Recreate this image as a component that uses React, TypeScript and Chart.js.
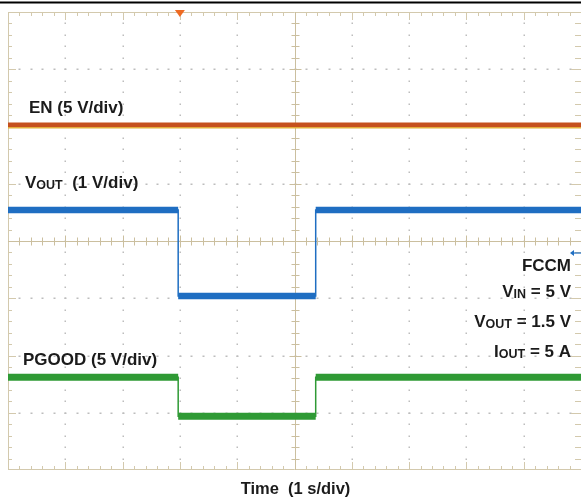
import React, { useEffect, useRef } from "react";
import { Chart, registerables } from "chart.js";

Chart.register(...registerables);

// Oscilloscope screen: 10 horizontal divisions (1 s/div), 8 vertical divisions
const X_MIN = 0;
const X_MAX = 10;
const Y_MIN = -4;
const Y_MAX = 4;

// EN trace (5 V/div) – level in divisions from screen centre
const enTime = [0, 10];
const enLevel = [2.03, 2.03];
const enShadowLevel = [2.0, 2.0];

// VOUT trace (1 V/div)
const voutTime = [0, 2.97, 2.97, 5.37, 5.37, 10];
const voutLevel = [0.54, 0.54, -0.96, -0.96, 0.54, 0.54];

// PGOOD trace (5 V/div)
const pgoodTime = [0, 2.97, 2.97, 5.37, 5.37, 10];
const pgoodLevel = [-2.38, -2.38, -3.06, -3.06, -2.38, -2.38];

// Markers
const triggerTime = 3.0;
const voutRefLevel = -0.21;

const FONT = '"Liberation Sans", Arial, Helvetica, sans-serif';
const TEXT_COLOR = "#1b1b1b";
const EN_COLOR = "#c5501e";
const EN_SHADOW = "#e4ad3c";
const VOUT_COLOR = "#1f6ec2";
const PGOOD_COLOR = "#2f9a35";

type Part = { t: string; size: number; dy?: number };

const leftLabels: { parts: Part[]; x: number; y: number }[] = [
  { parts: [{ t: "EN (5 V/div)", size: 17 }], x: 29, y: 113 },
  {
    parts: [
      { t: "V", size: 17 },
      { t: "OUT", size: 12.5, dy: 1 },
      { t: "  (1 V/div)", size: 17 },
    ],
    x: 25,
    y: 188,
  },
  { parts: [{ t: "PGOOD (5 V/div)", size: 17 }], x: 23, y: 365 },
];

const rightLabels: { parts: Part[]; y: number }[] = [
  { parts: [{ t: "FCCM", size: 17 }], y: 271 },
  {
    parts: [
      { t: "V", size: 17 },
      { t: "IN", size: 12.5, dy: 1 },
      { t: " = 5 V", size: 17 },
    ],
    y: 297,
  },
  {
    parts: [
      { t: "V", size: 17 },
      { t: "OUT", size: 12.5, dy: 1 },
      { t: " = 1.5 V", size: 17 },
    ],
    y: 327,
  },
  {
    parts: [
      { t: "I", size: 17 },
      { t: "OUT", size: 12.5, dy: 1 },
      { t: " = 5 A", size: 17 },
    ],
    y: 357,
  },
];

const xTitle = "Time  (1 s/div)";

function toPoints(t: number[], v: number[]) {
  return t.map((x, i) => ({ x, y: v[i] }));
}

// flat (noisy, thick) portions of a step trace: pairs (0,1), (2,3), (4,5)
function plateaus(t: number[], v: number[]) {
  const out: { x: number; y: number | null }[] = [];
  for (let i = 0; i + 1 < t.length; i += 2) {
    out.push({ x: t[i], y: v[i] });
    out.push({ x: t[i + 1], y: v[i + 1] });
    if (i + 2 < t.length) out.push({ x: (t[i + 1] + t[i + 2]) / 2, y: null });
  }
  return out;
}

function drawRich(
  ctx: CanvasRenderingContext2D,
  parts: Part[],
  x: number,
  y: number,
  align: "left" | "right" | "center"
) {
  let w = 0;
  const widths: number[] = [];
  for (const p of parts) {
    ctx.font = `bold ${p.size}px ${FONT}`;
    const pw = ctx.measureText(p.t).width;
    widths.push(pw);
    w += pw;
  }
  let cx = align === "right" ? x - w : align === "center" ? x - w / 2 : x;
  ctx.textAlign = "left";
  ctx.textBaseline = "alphabetic";
  ctx.fillStyle = TEXT_COLOR;
  parts.forEach((p, i) => {
    ctx.font = `bold ${p.size}px ${FONT}`;
    ctx.fillText(p.t, cx, y + (p.dy || 0));
    cx += widths[i];
  });
}

const scopeGrid = {
  id: "scopeGrid",
  beforeDatasetsDraw(chart: any) {
    const ctx: CanvasRenderingContext2D = chart.ctx;
    const xs = chart.scales.x;
    const ys = chart.scales.y;
    const { left, right, top, bottom } = chart.chartArea;
    ctx.save();

    // dotted graticule
    ctx.fillStyle = "#bdbdbd";
    for (let i = X_MIN + 1; i < X_MAX; i++) {
      if (i === 5) continue;
      const px = Math.round(xs.getPixelForValue(i));
      for (let k = Y_MIN * 5 + 1; k < Y_MAX * 5; k++) {
        const py = Math.round(ys.getPixelForValue(k / 5));
        ctx.fillRect(px - 0.5, py - 0.5, 1.5, 1.5);
      }
    }
    for (let j = Y_MIN + 1; j < Y_MAX; j++) {
      if (j === 0) continue;
      const py = Math.round(ys.getPixelForValue(j));
      for (let k = X_MIN * 5 + 1; k < X_MAX * 5; k++) {
        const px = Math.round(xs.getPixelForValue(k / 5));
        ctx.fillRect(px - 0.5, py - 0.5, 2, 1.5);
      }
    }

    const frame = "#d3c9ad";
    ctx.strokeStyle = frame;
    ctx.lineWidth = 1;

    // frame
    ctx.beginPath();
    ctx.moveTo(left + 0.5, top);
    ctx.lineTo(left + 0.5, bottom);
    ctx.moveTo(left, top + 0.5);
    ctx.lineTo(right, top + 0.5);
    ctx.moveTo(left, bottom - 0.5);
    ctx.lineTo(right, bottom - 0.5);
    ctx.stroke();

    // frame ticks
    ctx.beginPath();
    for (let k = X_MIN * 5 + 1; k < X_MAX * 5; k++) {
      const px = Math.round(xs.getPixelForValue(k / 5)) + 0.5;
      const len = k % 5 === 0 ? 8 : 4;
      ctx.moveTo(px, top);
      ctx.lineTo(px, top + len);
      ctx.moveTo(px, bottom);
      ctx.lineTo(px, bottom - len);
    }
    for (let k = Y_MIN * 5 + 1; k < Y_MAX * 5; k++) {
      const py = Math.round(ys.getPixelForValue(k / 5)) + 0.5;
      const len = k % 5 === 0 ? 8 : 4;
      ctx.moveTo(left, py);
      ctx.lineTo(left + len, py);
      ctx.moveTo(right, py);
      ctx.lineTo(right - len - 2, py);
    }
    ctx.stroke();

    // centre cross axes with ticks
    ctx.strokeStyle = "#cbbf9f";
    const cy = Math.round(ys.getPixelForValue(0)) + 0.5;
    const cxp = Math.round(xs.getPixelForValue(5)) + 0.5;
    ctx.beginPath();
    ctx.moveTo(left, cy);
    ctx.lineTo(right, cy);
    ctx.moveTo(cxp, top);
    ctx.lineTo(cxp, bottom);
    for (let k = X_MIN * 5 + 1; k < X_MAX * 5; k++) {
      const px = Math.round(xs.getPixelForValue(k / 5)) + 0.5;
      const len = k % 5 === 0 ? 6 : 4;
      ctx.moveTo(px, cy - len);
      ctx.lineTo(px, cy + len);
    }
    for (let k = Y_MIN * 5 + 1; k < Y_MAX * 5; k++) {
      const py = Math.round(ys.getPixelForValue(k / 5)) + 0.5;
      const len = k % 5 === 0 ? 6 : 4;
      ctx.moveTo(cxp - len, py);
      ctx.lineTo(cxp + len, py);
    }
    ctx.stroke();
    ctx.restore();
  },
  afterDatasetsDraw(chart: any) {
    const ctx: CanvasRenderingContext2D = chart.ctx;
    const xs = chart.scales.x;
    const ys = chart.scales.y;
    const { right, top } = chart.chartArea;
    ctx.save();

    // top rule
    ctx.fillStyle = "#000";
    ctx.fillRect(0, 1.5, chart.width, 2);

    // trigger marker
    const tx = xs.getPixelForValue(triggerTime);
    ctx.fillStyle = "#ee6a22";
    ctx.beginPath();
    ctx.moveTo(tx - 5, top - 2);
    ctx.lineTo(tx + 5, top - 2);
    ctx.lineTo(tx, top + 5);
    ctx.closePath();
    ctx.fill();

    // VOUT reference marker
    const ry = ys.getPixelForValue(voutRefLevel);
    ctx.strokeStyle = VOUT_COLOR;
    ctx.fillStyle = VOUT_COLOR;
    ctx.lineWidth = 1.2;
    ctx.beginPath();
    ctx.moveTo(right - 9, ry);
    ctx.lineTo(right, ry);
    ctx.stroke();
    ctx.beginPath();
    ctx.moveTo(right - 11, ry);
    ctx.lineTo(right - 7, ry - 3);
    ctx.lineTo(right - 7, ry + 3);
    ctx.closePath();
    ctx.fill();

    // labels
    for (const l of leftLabels) drawRich(ctx, l.parts, l.x, l.y, "left");
    for (const l of rightLabels) drawRich(ctx, l.parts, 571, l.y, "right");
    drawRich(ctx, [{ t: xTitle, size: 16.5 }], xs.getPixelForValue(5) + 1, 494, "center");
    ctx.restore();
  },
};

export default function App() {
  const ref = useRef<HTMLCanvasElement | null>(null);

  useEffect(() => {
    if (!ref.current) return;
    const chart = new Chart(ref.current, {
      type: "line",
      data: {
        datasets: [
          {
            label: "EN shadow",
            data: toPoints(enTime, enShadowLevel),
            borderColor: EN_SHADOW,
            borderWidth: 4,
            pointRadius: 0,
            order: 6,
          },
          {
            label: "EN",
            data: toPoints(enTime, enLevel),
            borderColor: EN_COLOR,
            borderWidth: 4.5,
            pointRadius: 0,
            order: 5,
          },
          {
            label: "VOUT edges",
            data: toPoints(voutTime, voutLevel),
            borderColor: VOUT_COLOR,
            borderWidth: 1.5,
            pointRadius: 0,
            order: 4,
          },
          {
            label: "VOUT",
            data: plateaus(voutTime, voutLevel),
            borderColor: VOUT_COLOR,
            borderWidth: 6.5,
            pointRadius: 0,
            spanGaps: false,
            order: 3,
          },
          {
            label: "PGOOD edges",
            data: toPoints(pgoodTime, pgoodLevel),
            borderColor: PGOOD_COLOR,
            borderWidth: 1.5,
            pointRadius: 0,
            order: 2,
          },
          {
            label: "PGOOD",
            data: plateaus(pgoodTime, pgoodLevel),
            borderColor: PGOOD_COLOR,
            borderWidth: 7,
            pointRadius: 0,
            spanGaps: false,
            order: 1,
          },
        ],
      },
      options: {
        animation: false,
        responsive: false,
        parsing: false,
        normalized: true,
        layout: { padding: { left: 8, top: 12, right: 0, bottom: 28 } },
        plugins: {
          legend: { display: false },
          tooltip: { enabled: false },
          title: { display: false },
        },
        elements: { line: { tension: 0, borderCapStyle: "butt" } },
        scales: {
          x: { type: "linear", min: X_MIN, max: X_MAX, display: false },
          y: { type: "linear", min: Y_MIN, max: Y_MAX, display: false },
        },
      },
      plugins: [scopeGrid],
    });
    return () => chart.destroy();
  }, []);

  return (
    <div style={{ position: "absolute", left: 0, top: 0, width: 581, height: 498, background: "#fff" }}>
      <canvas ref={ref} width={581} height={498} style={{ display: "block" }} />
    </div>
  );
}
